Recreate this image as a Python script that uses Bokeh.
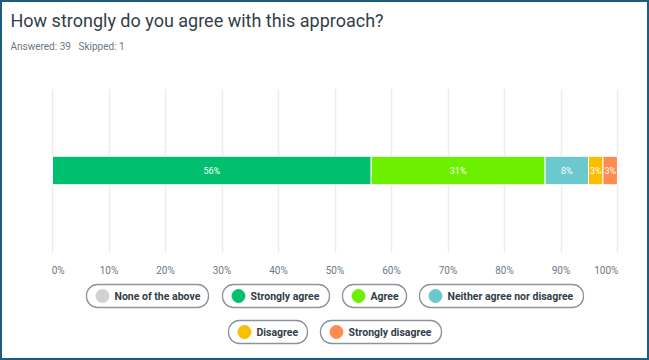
from bokeh.plotting import figure
from bokeh.models import ColumnDataSource, FixedTicker, CustomJSTickFormatter, Range1d, Label
from bokeh.layouts import column
from bokeh.embed import file_html
from bokeh.resources import INLINE
from bokeh.core.properties import value

# ---- data ----
categories = ["Strongly agree", "Agree", "Neither agree nor disagree", "Disagree", "Strongly disagree"]
percents = [56.41, 30.77, 7.69, 2.56, 2.56]
bar_labels = ["56%", "31%", "8%", "3%", "3%"]
colors = ["#00bf6f", "#6cf000", "#6bc8cd", "#f9be00", "#ff8b4f"]
legend_items = ["None of the above", "Strongly agree", "Agree", "Neither agree nor disagree",
                "Disagree", "Strongly disagree"]
legend_colors = ["#cfd1d3", "#00bf6f", "#6cf000", "#6bc8cd", "#f9be00", "#ff8b4f"]
tick_values = [0, 10, 20, 30, 40, 50, 60, 70, 80, 90, 100]
title_text = "How strongly do you agree with this approach?"
answered_text = "Answered: 39"
skipped_text = "Skipped: 1"

FONT = "Roboto"
TEXT_DARK = "#333e48"
TEXT_GRAY = "#6b7885"
W = 645              # inner width (2px border each side)
PX0, PX1 = 2, 647    # frame span in page pixels (full width)
ZERO_X, FULL_X = 52, 617   # page x of 0% and 100%
per = (FULL_X - ZERO_X) / 100.0

def blank(fig):
    fig.axis.visible = False
    fig.grid.grid_line_color = None
    fig.outline_line_color = None

# ---- header figure (title + answered/skipped) ----
H1 = 68
h = figure(width=W, height=H1, output_backend="svg", toolbar_location=None,
           x_range=Range1d(PX0, PX1), y_range=Range1d(H1, 0), min_border=0)
blank(h)
h.add_layout(Label(x=10, y=18, text=title_text, text_baseline="middle", text_font=FONT,
                   text_font_size="18px", text_color=TEXT_DARK))
h.add_layout(Label(x=10, y=44, text=answered_text, text_baseline="middle", text_font=FONT,
                   text_font_size="10px", text_color=TEXT_GRAY))
h.add_layout(Label(x=78, y=44, text=skipped_text, text_baseline="middle", text_font=FONT,
                   text_font_size="10px", text_color=TEXT_GRAY))

# ---- main bar figure ----
lefts, rights = [], []
acc = 0.0
for v in percents:
    lefts.append(acc)
    acc += v
    rights.append(acc)
mids = [(l + r) / 2 for l, r in zip(lefts, rights)]
src = ColumnDataSource(dict(left=lefts, right=rights, mid=mids, color=colors,
                            label=bar_labels, y=[0] * len(percents)))

H2 = 208
p = figure(width=W, height=H2, output_backend="svg", toolbar_location=None,
           x_range=Range1d((PX0 - ZERO_X) / per, (PX1 - ZERO_X) / per), y_range=Range1d(-1, 1),
           min_border_left=0, min_border_right=0, min_border_top=18, min_border_bottom=23)
p.outline_line_color = None
p.hbar(y="y", left="left", right="right", height=0.347, color="color", source=src,
       line_color="white", line_width=1)
p.text(x="mid", y="y", text="label", source=src, text_align="center", text_baseline="middle",
       text_color="white", text_font_size="9px", text_font=value(FONT))

p.yaxis.visible = False
p.ygrid.grid_line_color = None
p.xaxis.ticker = FixedTicker(ticks=tick_values)
p.xaxis.formatter = CustomJSTickFormatter(code="""
    if (tick == 0) return '\\u2007\\u2007' + tick + '%';
    if (tick == 100) return tick + '%' + '\\u2007\\u2007\\u2007\\u2007';
    return tick + '%';
""")
p.xaxis.axis_line_color = None
p.xaxis.major_tick_line_color = None
p.xaxis.minor_tick_line_color = None
p.xaxis.major_label_standoff = 6
p.xaxis.major_label_text_font_size = "10px"
p.xaxis.major_label_text_color = TEXT_GRAY
p.xaxis.major_label_text_font = FONT
p.xgrid.grid_line_color = "#dadada"
p.xgrid.grid_line_dash = "1 1"
p.xgrid.grid_line_width = 1.5

# ---- legend figure ----
H3 = 80
pill_left = [86, 222, 342, 419, 228, 320]
pill_right = [208, 329, 406, 583, 307, 441]
pill_row = [0, 0, 0, 0, 1, 1]
row_y = [17.5, 53.5]
lg_y = [row_y[r] for r in pill_row]
lsrc = ColumnDataSource(dict(
    left=pill_left, right=pill_right,
    bottom=[y + 11.5 for y in lg_y], top=[y - 11.5 for y in lg_y],
    cx=[l + 16 for l in pill_left], cy=lg_y,
    tx=[l + 28 for l in pill_left],
    color=legend_colors, label=legend_items))

q = figure(width=W, height=H3, output_backend="svg", toolbar_location=None,
           x_range=Range1d(PX0, PX1), y_range=Range1d(H3, 0), min_border=0)
blank(q)
q.quad(left="left", right="right", bottom="bottom", top="top", source=lsrc,
       fill_color="white", line_color="#8c939b", line_width=1.3, border_radius=11)
q.scatter(x="cx", y="cy", size=13, color="color", source=lsrc)
q.text(x="tx", y="cy", text="label", source=lsrc, text_baseline="middle",
       text_font=value(FONT), text_font_size="10.5px", text_font_style="bold",
       text_color=TEXT_DARK)

layout = column(h, p, q, spacing=0, styles={"border": "2px solid #1a5d7e"})

open("out.html", "w").write(file_html(layout, INLINE))
